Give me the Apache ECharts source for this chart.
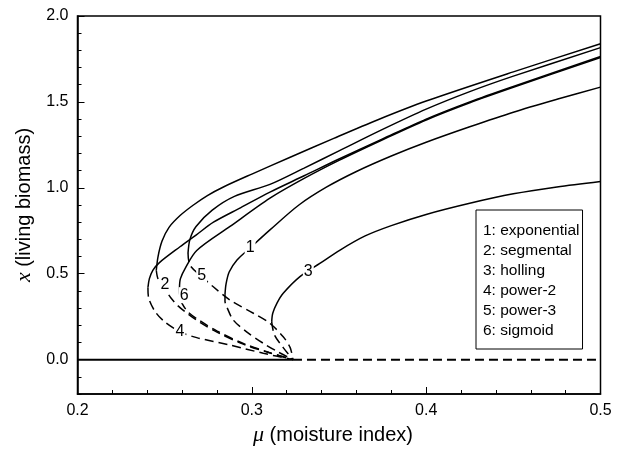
<!DOCTYPE html>
<html>
<head>
<meta charset="utf-8">
<script src="https://cdn.jsdelivr.net/npm/echarts@6/dist/echarts.min.js"></script>
<style>
  html, body { margin: 0; padding: 0; background: #fff; }
  #chart { width: 617px; height: 452px; }
</style>
</head>
<body>
<div id="chart"></div>
<script>
// names shown in the legend box
const curveNames = ['1: exponential', '2: segmental', '3: holling', '4: power-2', '5: power-3', '6: sigmoid'];

// upper (stable) branches: [mu, x], from the fold point up to mu = 0.5
const stable1 = [[0.2846,0.38],[0.2852,0.44],[0.287,0.51],[0.2915,0.58],[0.299,0.65],[0.3104,0.755],[0.327,0.90],[0.343,1.005],[0.36,1.095],[0.38,1.185],[0.40,1.265],[0.425,1.355],[0.45,1.44],[0.475,1.515],[0.5,1.586]];
const stable2 = [[0.2452,0.52],[0.2462,0.60],[0.2485,0.69],[0.2525,0.77],[0.259,0.84],[0.2665,0.90],[0.2745,0.955],[0.2837,1.005],[0.30,1.08],[0.322,1.178],[0.347,1.288],[0.372,1.395],[0.40,1.505],[0.45,1.675],[0.5,1.838]];
const stable3 = [[0.3114,0.22],[0.312,0.27],[0.3145,0.33],[0.318,0.386],[0.3276,0.483],[0.339,0.56],[0.3506,0.638],[0.365,0.72],[0.38,0.78],[0.40,0.845],[0.425,0.91],[0.45,0.965],[0.475,1.005],[0.5,1.037]];
const stable4 = [[0.2404,0.42],[0.2412,0.47],[0.2432,0.52],[0.247,0.565],[0.2588,0.657],[0.268,0.725],[0.278,0.80],[0.2937,0.885],[0.3104,0.975],[0.33,1.07],[0.35,1.168],[0.375,1.285],[0.40,1.40],[0.425,1.50],[0.45,1.59],[0.5,1.764]];
const stable5 = [[0.2634,0.62],[0.2645,0.70],[0.268,0.775],[0.2773,0.87],[0.29,0.95],[0.3104,1.02],[0.33,1.115],[0.35,1.215],[0.375,1.34],[0.40,1.458],[0.425,1.56],[0.45,1.65],[0.5,1.816]];
const stable6 = [[0.2585,0.42],[0.259,0.47],[0.2617,0.53],[0.2684,0.635],[0.2875,0.775],[0.3104,0.94],[0.33,1.055],[0.35,1.16],[0.375,1.28],[0.40,1.395],[0.425,1.495],[0.45,1.585],[0.5,1.758]];

// lower (unstable) branches: [mu, x], from the fold point down to the transcritical point
const unstable1 = [[0.2846,0.38],[0.2846,0.34],[0.2856,0.308],[0.2894,0.23],[0.297,0.162],[0.3066,0.095],[0.315,0.045],[0.3236,0]];
const unstable2 = [[0.2452,0.52],[0.2462,0.47],[0.2502,0.41],[0.2535,0.36],[0.258,0.31],[0.2635,0.265],[0.2705,0.215],[0.28,0.16],[0.2951,0.09],[0.31,0.04],[0.3236,0]];
const unstable3 = [[0.3114,0.22],[0.313,0.143],[0.318,0.07],[0.3236,0]];
const unstable4 = [[0.2404,0.42],[0.2408,0.36],[0.2445,0.28],[0.25,0.22],[0.2588,0.162],[0.2684,0.128],[0.2875,0.085],[0.3066,0.037],[0.3236,0]];
const unstable5 = [[0.2634,0.62],[0.2645,0.55],[0.2712,0.483],[0.2779,0.424],[0.2875,0.347],[0.3009,0.27],[0.3104,0.211],[0.318,0.133],[0.322,0.07],[0.3236,0]];
const unstable6 = [[0.2585,0.42],[0.2587,0.37],[0.2598,0.33],[0.2636,0.275],[0.2703,0.226],[0.2799,0.167],[0.2951,0.094],[0.31,0.042],[0.3236,0]];

// trivial equilibrium x = 0
const zeroStable = [[0.2,0],[0.3236,0]];
const zeroUnstable = [[0.3236,0],[0.5,0]];

// numbers written on the curves
const curveTags = [['1',0.299,0.65],['2',0.2502,0.434],['3',0.3324,0.51],['4',0.2588,0.162],['5',0.2712,0.49],['6',0.2612,0.375]];

const yMajor = [0, 0.5, 1.0, 1.5, 2.0];

const stableAll = [stable1, stable2, stable3, stable4, stable5, stable6];
const unstableAll = [unstable1, unstable2, unstable3, unstable4, unstable5, unstable6];

const chart = echarts.init(document.getElementById('chart'));

const series = [];
curveNames.forEach((name, i) => {
  series.push({
    name: name,
    type: 'line',
    data: stableAll[i],
    smooth: 0.3,
    symbol: 'none',
    lineStyle: { color: '#000', width: 1.5 },
    itemStyle: { color: '#000' },
    z: 3
  });
  series.push({
    name: name,
    type: 'line',
    data: unstableAll[i],
    smooth: 0.3,
    symbol: 'none',
    lineStyle: { color: '#000', width: 1.5, type: [9, 5] },
    itemStyle: { color: '#000' },
    z: 3
  });
});
series.push({
  type: 'line', data: zeroStable, symbol: 'none',
  lineStyle: { color: '#000', width: 2 }, z: 3
});
series.push({
  type: 'line', data: zeroUnstable, symbol: 'none',
  lineStyle: { color: '#000', width: 2, type: [9, 5] }, z: 3
});
series.push({
  type: 'scatter',
  data: curveTags.map(t => ({ value: [t[1], t[2]], tag: t[0] })),
  symbolSize: 0,
  itemStyle: { opacity: 1 },
  z: 10,
  label: {
    show: true,
    position: 'inside',
    formatter: p => p.data.tag,
    color: '#000',
    opacity: 1,
    fontSize: 16,
    fontFamily: 'Liberation Sans',
    backgroundColor: '#fff',
    padding: [0, 1]
  }
});

const option = {
  animation: false,
  backgroundColor: '#fff',
  grid: {
    left: 77.5, right: 16.5, top: 16, bottom: 58,
    show: true, borderColor: '#000', borderWidth: 1.5
  },
  legend: {
    data: curveNames,
    orient: 'vertical',
    left: 476,
    top: 210,
    itemWidth: 0,
    itemHeight: 0,
    itemGap: 0,
    padding: [11, 3, 8, 1],
    borderColor: '#000',
    borderWidth: 1,
    backgroundColor: '#fff',
    selectedMode: false,
    textStyle: { fontSize: 15.5, fontFamily: 'Liberation Sans', color: '#000', lineHeight: 20 }
  },
  xAxis: {
    type: 'value',
    min: 0.2, max: 0.5, interval: 0.1,
    name: '{i|μ} (moisture index)',
    nameLocation: 'middle',
    nameGap: 30,
    nameTextStyle: {
      fontSize: 20, fontFamily: 'Liberation Sans', color: '#000',
      padding: [0, 12, 0, 0],
      rich: { i: { fontFamily: 'Liberation Serif', fontStyle: 'italic', fontSize: 22, color: '#000' } }
    },
    axisLine: { show: true, onZero: false, lineStyle: { color: '#000', width: 1.5 } },
    axisTick: { show: true, inside: true, length: 7, lineStyle: { color: '#000', width: 1 } },
    minorTick: { show: true, splitNumber: 5, length: 4, lineStyle: { color: '#000', width: 1 } },
    axisLabel: { margin: 9, fontSize: 16, fontFamily: 'Liberation Sans', color: '#000', formatter: v => v.toFixed(1) },
    splitLine: { show: false }
  },
  yAxis: [{
    type: 'value',
    min: -0.2, max: 2.0,
    name: '{i|x} (living biomass)',
    nameLocation: 'middle',
    nameGap: 42,
    nameTextStyle: {
      fontSize: 20, fontFamily: 'Liberation Sans', color: '#000',
      rich: { i: { fontFamily: 'Liberation Serif', fontStyle: 'italic', fontSize: 22, color: '#000' } }
    },
    axisLine: { show: true, onZero: false, lineStyle: { color: '#000', width: 1.5 } },
    axisTick: { show: true, inside: true, length: 7, customValues: yMajor, lineStyle: { color: '#000', width: 1 } },
    axisLabel: { margin: 9, fontSize: 16, fontFamily: 'Liberation Sans', color: '#000', customValues: yMajor, formatter: v => v.toFixed(1) },
    splitLine: { show: false }
  }, {
    type: 'value',
    position: 'left',
    min: -0.2, max: 2.0, interval: 0.1,
    axisLine: { show: false, onZero: false },
    axisTick: { show: true, inside: true, length: 4, lineStyle: { color: '#000', width: 1 } },
    axisLabel: { show: false },
    splitLine: { show: false }
  }],
  series: series
};

chart.setOption(option);
</script>
</body>
</html>
